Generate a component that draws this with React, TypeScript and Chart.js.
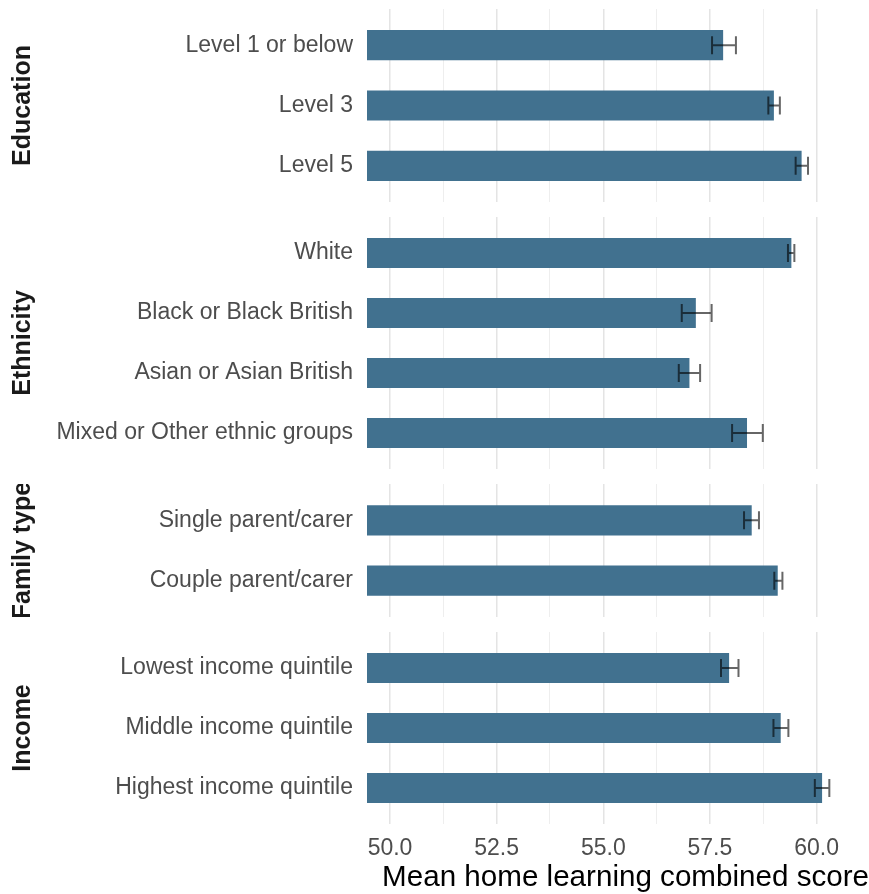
import React, { useEffect, useRef } from "react";
import { Chart, registerables } from "chart.js";

Chart.register(...registerables);
Chart.defaults.font.family = "'Liberation Sans', Arial, sans-serif";

// ---- data ----
const EDU_LABELS = ["Level 1 or below", "Level 3", "Level 5"];
const EDU_MEAN = [57.81, 59.0, 59.65];
const EDU_LO = [57.55, 58.87, 59.51];
const EDU_HI = [58.11, 59.14, 59.8];

const ETH_LABELS = ["White", "Black or Black British", "Asian or Asian British", "Mixed or Other ethnic groups"];
const ETH_MEAN = [59.41, 57.17, 57.02, 58.37];
const ETH_LO = [59.33, 56.84, 56.77, 58.02];
const ETH_HI = [59.48, 57.54, 57.27, 58.74];

const FAM_LABELS = ["Single parent/carer", "Couple parent/carer"];
const FAM_MEAN = [58.48, 59.09];
const FAM_LO = [58.3, 59.01];
const FAM_HI = [58.65, 59.2];

const INC_LABELS = ["Lowest income quintile", "Middle income quintile", "Highest income quintile"];
const INC_MEAN = [57.95, 59.16, 60.13];
const INC_LO = [57.76, 58.99, 59.96];
const INC_HI = [58.17, 59.34, 60.3];

const FACETS = ["Education", "Ethnicity", "Family type", "Income"];
const X_TITLE = "Mean home learning combined score";
const X_MIN = 49.46;
const X_MAX = 61.23;
const X_STEP = 1.25;
const X_LABEL_STEP = 2.5;

// ---- layout / style ----
const W = 869;
const LEFT = 367;
const BAR_COLOR = "#41718F";
const TEXT_GREY = "#4D4D4D";

const PANELS = [
  { facet: FACETS[0], labels: EDU_LABELS, mean: EDU_MEAN, lo: EDU_LO, hi: EDU_HI, top: 9, height: 193, axis: false },
  { facet: FACETS[1], labels: ETH_LABELS, mean: ETH_MEAN, lo: ETH_LO, hi: ETH_HI, top: 217, height: 252, axis: false },
  { facet: FACETS[2], labels: FAM_LABELS, mean: FAM_MEAN, lo: FAM_LO, hi: FAM_HI, top: 484, height: 133, axis: false },
  { facet: FACETS[3], labels: INC_LABELS, mean: INC_MEAN, lo: INC_LO, hi: INC_HI, top: 632, height: 262, axis: true },
];

const isMajor = (v: number) => Math.abs(v / X_LABEL_STEP - Math.round(v / X_LABEL_STEP)) < 1e-6;

function Panel(props: any) {
  const { facet, labels, mean, lo, hi, top, height, axis } = props;
  const ref = useRef<HTMLCanvasElement | null>(null);

  useEffect(() => {
    if (!ref.current) return;
    const errorBars = {
      id: "errorBars",
      afterDatasetsDraw(chart: any) {
        const meta = chart.getDatasetMeta(0);
        const xs = chart.scales.x;
        const ctx = chart.ctx;
        ctx.save();
        ctx.strokeStyle = "rgba(0,0,0,0.6)";
        ctx.lineWidth = 2;
        meta.data.forEach((el: any, i: number) => {
          const y = el.y;
          const x1 = xs.getPixelForValue(lo[i]);
          const x2 = xs.getPixelForValue(hi[i]);
          const c = 9;
          ctx.beginPath();
          ctx.moveTo(x1, y);
          ctx.lineTo(x2, y);
          ctx.moveTo(x1, y - c);
          ctx.lineTo(x1, y + c);
          ctx.moveTo(x2, y - c);
          ctx.lineTo(x2, y + c);
          ctx.stroke();
        });
        ctx.restore();
      },
    };

    const chart = new Chart(ref.current, {
      type: "bar",
      data: {
        datasets: [
          {
            data: mean.map((v: number, i: number) => ({ x: v, y: i })),
            backgroundColor: BAR_COLOR,
            borderWidth: 0,
            barPercentage: 0.5,
            categoryPercentage: 1,
          },
        ],
      },
      options: {
        indexAxis: "y",
        animation: false,
        responsive: false,
        devicePixelRatio: 1,
        layout: { padding: 0 },
        plugins: { legend: { display: false }, tooltip: { enabled: false } },
        scales: {
          x: {
            type: "linear",
            min: X_MIN,
            max: X_MAX,
            border: { display: false },
            grid: {
              drawTicks: false,
              color: (c: any) => (isMajor(c.tick.value) ? "#E4E4E4" : "#EEEEEE"),
              lineWidth: (c: any) => (isMajor(c.tick.value) ? 1.5 : 1),
            },
            ticks: {
              stepSize: X_STEP,
              includeBounds: false,
              display: axis,
              autoSkip: false,
              maxRotation: 0,
              padding: 11,
              color: TEXT_GREY,
              font: { size: 23 },
              callback: (v: any) => (isMajor(Number(v)) ? Number(v).toFixed(1) : ""),
            },
            title: {
              display: axis,
              text: X_TITLE,
              align: "end",
              color: "#000000",
              font: { size: 29.6, lineHeight: 1.06 },
              padding: 0,
            },
            afterFit: (s: any) => {
              s.height = axis ? 70 : 0;
            },
          },
          y: {
            type: "linear",
            min: -0.6,
            max: labels.length - 0.4,
            reverse: true,
            offset: false,
            bounds: "data",
            afterBuildTicks: (s: any) => {
              s.ticks = labels.map((_: string, i: number) => ({ value: i }));
            },
            grid: {
              display: true,
              offset: false,
              drawOnChartArea: false,
              drawTicks: true,
              tickLength: 14,
              color: "rgba(0,0,0,0)",
            },
            border: { display: false },
            ticks: {
              autoSkip: false,
              padding: 0,
              color: TEXT_GREY,
              font: { size: 23, lineHeight: 0 },
              callback: (v: any) => labels[Number(v)] ?? "",
            },
            title: {
              display: true,
              text: facet,
              color: "#1A1A1A",
              font: { size: 25, weight: "bold" },
              padding: { top: 8, bottom: 0 },
            },
            afterFit: (s: any) => {
              s.width = LEFT;
            },
          },
        },
      },
      plugins: [errorBars],
    } as any);
    return () => chart.destroy();
  }, []);

  return (
    <canvas
      ref={ref}
      width={W}
      height={height}
      style={{ position: "absolute", left: 0, top, width: W, height }}
    />
  );
}

export default function App() {
  return (
    <div style={{ position: "absolute", left: 0, top: 0, width: W, height: 894, background: "#ffffff" }}>
      {PANELS.map((p) => (
        <Panel key={p.facet} {...p} />
      ))}
    </div>
  );
}
